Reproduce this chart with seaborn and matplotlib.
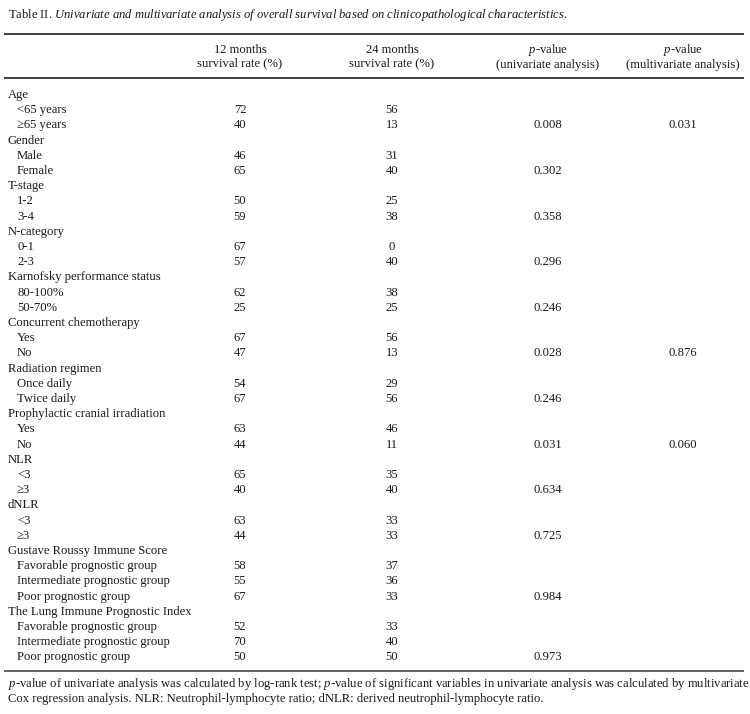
import matplotlib
matplotlib.use("Agg")
import matplotlib.pyplot as plt
import seaborn as sns
import pandas as pd

# ---- data ----
title = r"Table II. $\mathit{Univariate\ and\ multivariate\ analysis\ of\ overall\ survival\ based\ on\ clinicopathological\ characteristics.}$"
headers = [
    "12 months\nsurvival rate (%)",
    "24 months\nsurvival rate (%)",
    "$p$-value\n(univariate analysis)",
    "$p$-value\n(multivariate analysis)",
]
labels = [
    "Age", "<65 years", "\u226565 years",
    "Gender", "Male", "Female",
    "T-stage", "1-2", "3-4",
    "N-category", "0-1", "2-3",
    "Karnofsky performance status", "80-100%", "50-70%",
    "Concurrent chemotherapy", "Yes", "No",
    "Radiation regimen", "Once daily", "Twice daily",
    "Prophylactic cranial irradiation", "Yes", "No",
    "NLR", "<3", "\u22653",
    "dNLR", "<3", "\u22653",
    "Gustave Roussy Immune Score", "Favorable prognostic group",
    "Intermediate prognostic group", "Poor prognostic group",
    "The Lung Immune Prognostic Index", "Favorable prognostic group",
    "Intermediate prognostic group", "Poor prognostic group",
]
is_group = [1, 0, 0, 1, 0, 0, 1, 0, 0, 1, 0, 0, 1, 0, 0, 1, 0, 0, 1, 0, 0,
            1, 0, 0, 1, 0, 0, 1, 0, 0, 1, 0, 0, 0, 1, 0, 0, 0]
surv12 = ["", "72", "40", "", "46", "65", "", "50", "59", "", "67", "57",
          "", "62", "25", "", "67", "47", "", "54", "67", "", "63", "44",
          "", "65", "40", "", "63", "44", "", "58", "55", "67", "", "52", "70", "50"]
surv24 = ["", "56", "13", "", "31", "40", "", "25", "38", "", "0", "40",
          "", "38", "25", "", "56", "13", "", "29", "56", "", "46", "11",
          "", "35", "40", "", "33", "33", "", "37", "36", "33", "", "33", "40", "50"]
p_uni = ["", "", "0.008", "", "", "0.302", "", "", "0.358", "", "", "0.296",
         "", "", "0.246", "", "", "0.028", "", "", "0.246", "", "", "0.031",
         "", "", "0.634", "", "", "0.725", "", "", "", "0.984", "", "", "", "0.973"]
p_multi = ["", "", "0.031", "", "", "", "", "", "", "", "", "",
           "", "", "", "", "", "0.876", "", "", "", "", "", "0.060",
           "", "", "", "", "", "", "", "", "", "", "", "", "", ""]
footnote_1 = ("$p$-value of univariate analysis was calculated by log-rank test; $p$-value of significant "
              "variables in univariate analysis was calculated by multivariate")
footnote_2 = "Cox regression analysis. NLR: Neutrophil-lymphocyte ratio; dNLR: derived neutrophil-lymphocyte ratio."

df = pd.DataFrame({"label": labels, "group": is_group, "s12": surv12,
                   "s24": surv24, "puni": p_uni, "pmulti": p_multi})

# ---- style ----
sns.set_theme(style="white")
plt.rcParams["font.family"] = ["Liberation Serif", "DejaVu Serif"]
plt.rcParams["mathtext.fontset"] = "custom"
plt.rcParams["mathtext.rm"] = "Liberation Serif"
plt.rcParams["mathtext.it"] = "Liberation Serif:italic"
plt.rcParams["mathtext.bf"] = "Liberation Serif:bold"

FS = 9.1
ink = "#1a1a1a"
W, H = 750, 714
fig = plt.figure(figsize=(W / 100, H / 100), dpi=100)
ax = fig.add_axes([0, 0, 1, 1])
ax.set_xlim(0, W)
ax.set_ylim(H, 0)
ax.axis("off")
sns.despine(ax=ax, left=True, bottom=True)

# layout
row0, step = 95.0, 15.2
col_x = [240, 392, 548, 683]
x_group, x_item = 8, 17

ax.text(8, 15, title, fontsize=FS, color=ink, ha="left", va="center")
ax.plot([4, 744], [33.5, 33.5], color="#333333", lw=1.3, solid_capstyle="butt")
ax.plot([4, 744], [78, 78], color="#333333", lw=1.3, solid_capstyle="butt")

for cx, h in zip(col_x, headers):
    ax.text(cx, 56.5, h, fontsize=FS, color=ink, ha="center", va="center",
            linespacing=1.2, multialignment="center")

cols = ["s12", "s24", "puni", "pmulti"]
for i, r in df.iterrows():
    y = row0 + i * step
    ax.text(x_group if r["group"] else x_item, y, r["label"], fontsize=FS,
            color=ink, ha="left", va="center")
    for cx, c in zip(col_x, cols):
        if r[c]:
            ax.text(cx, y, r[c], fontsize=FS, color=ink, ha="center", va="center")

y_last = row0 + (len(df) - 1) * step
ax.plot([4, 744], [y_last + 13.5, y_last + 13.5], color="#555555", lw=1.3, solid_capstyle="butt")
ax.text(8, y_last + 27, footnote_1, fontsize=FS, color=ink, ha="left", va="center")
ax.text(8, y_last + 42, footnote_2, fontsize=FS, color=ink, ha="left", va="center")

fig.savefig("out.png", dpi=100, facecolor="white")
